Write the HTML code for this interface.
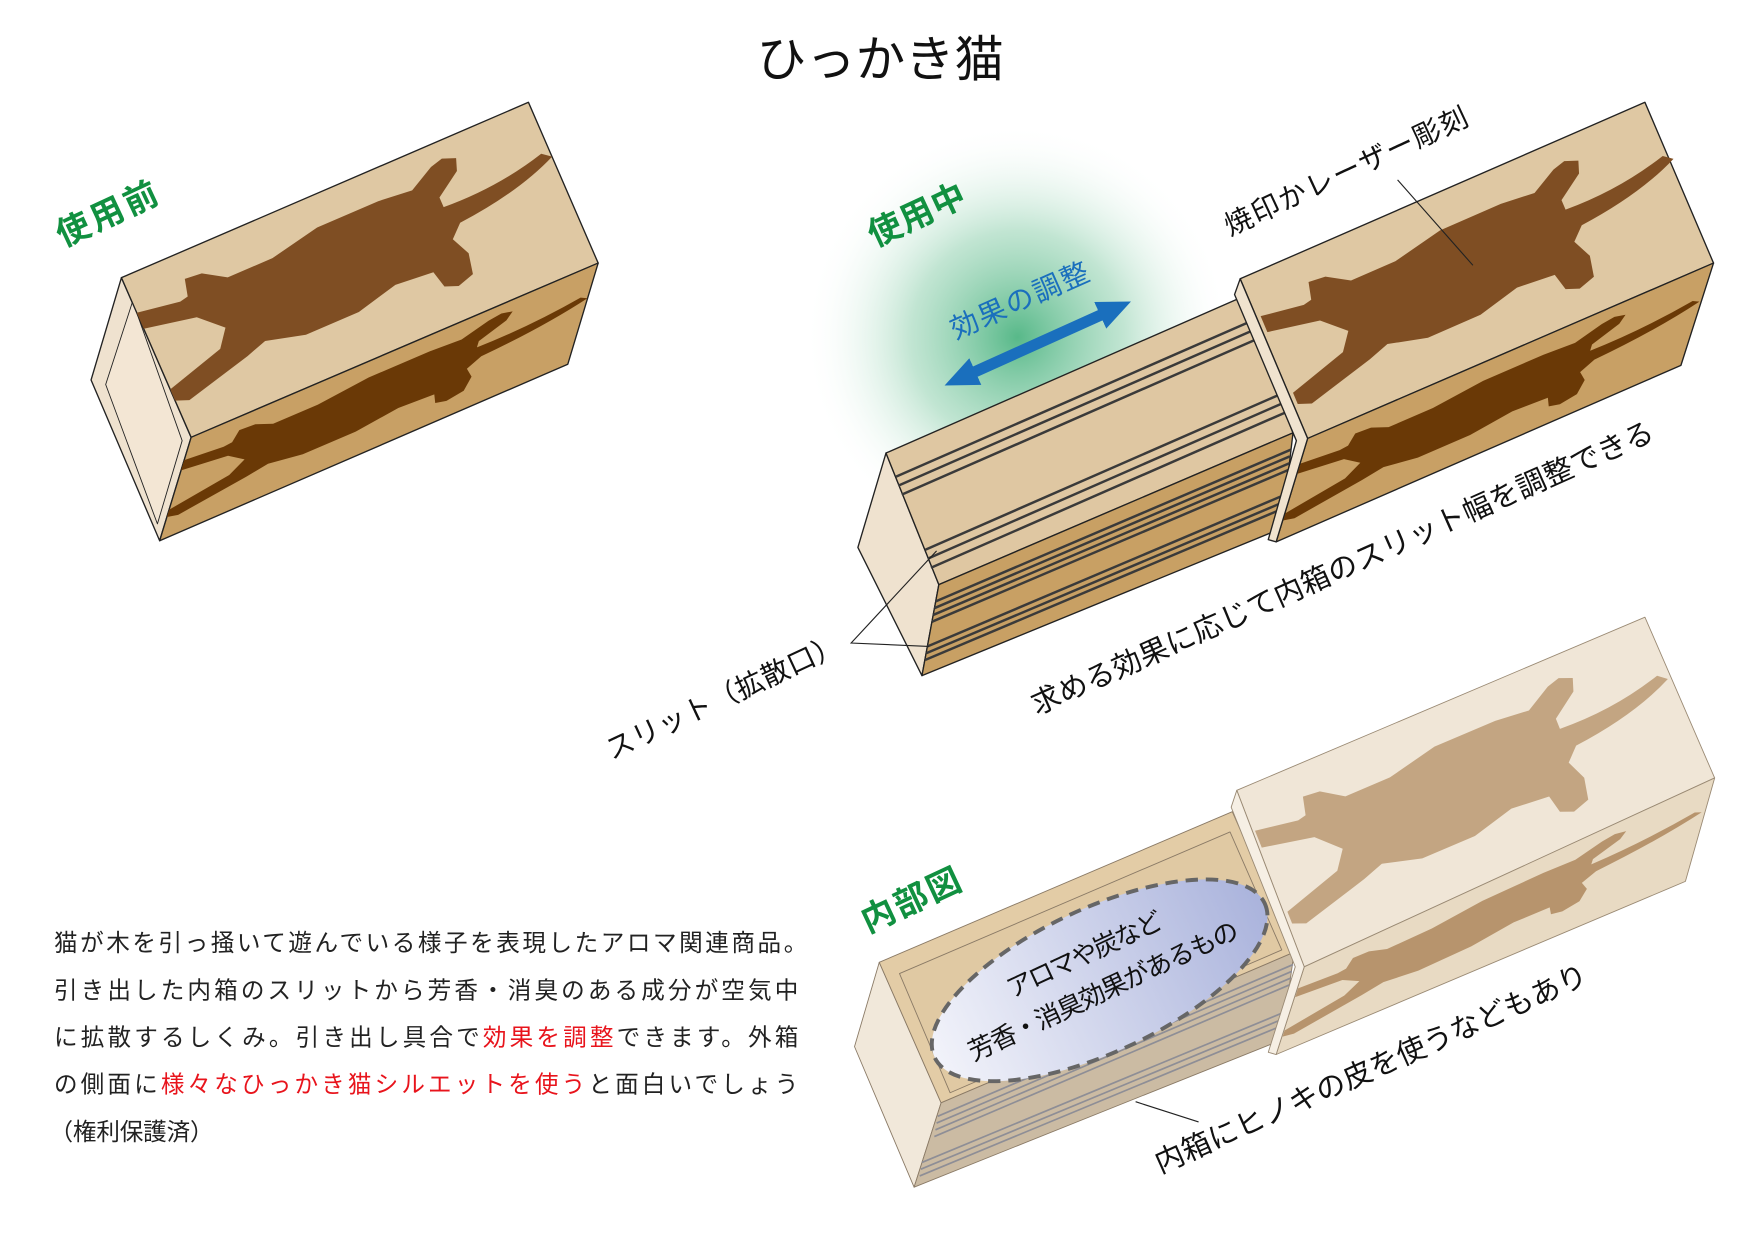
<!DOCTYPE html>
<html><head><meta charset="utf-8"><style>
html,body{margin:0;padding:0;background:#fff;}
svg{display:block;}
text{font-family:"Liberation Sans","Noto Sans CJK JP",sans-serif;}
</style></head><body>
<svg width="1754" height="1240" viewBox="0 0 1560 1103" preserveAspectRatio="none" xmlns="http://www.w3.org/2000/svg">
<defs>
<radialGradient id="glow" cx="905" cy="300" r="190" gradientUnits="userSpaceOnUse">
<stop offset="0" stop-color="#4fb583" stop-opacity="0.95"/>
<stop offset="0.5" stop-color="#8fd0ae" stop-opacity="0.55"/>
<stop offset="1" stop-color="#ffffff" stop-opacity="0"/>
</radialGradient>
<linearGradient id="ell" x1="0" y1="0" x2="1" y2="0">
<stop offset="0" stop-color="#f2f3fa"/>
<stop offset="1" stop-color="#aab3dc"/>
</linearGradient>
<marker id="ah" markerWidth="30" markerHeight="30" refX="6" refY="15" orient="auto-start-reverse" markerUnits="userSpaceOnUse">
<path d="M0,2 L30,15 L0,28 Z" fill="#1a6fbd"/>
</marker>
<path id="cat" d="M0,22 L10,26 L12,25 L13,15 L17,16 L22,24 L33,24 L45,18 L60,18 L68,20 L74,12 L77,10 L80,13 L79,20 L73,30 L73,36 Q86,38 98,30 L100,34 Q90,45 75,48 L72,55 L74,66 L73,78 L69,81 L66,78 L65,68 L56,66 L46,72 L33,72 L24,66 L19,70 L3,80 L0,77 L0,70 L14,60 L17,50 L12,38 L0,32 Z"/>
</defs>

<text x="783" y="68" font-size="44" text-anchor="middle" fill="#111">ひっかき猫</text>

<!-- Box 1 -->
<g stroke="#222" stroke-width="1.2" stroke-linejoin="round">
<polygon points="108,247 170,389 142,481 81,338" fill="#efe2cf"/>
<polygon points="118,268 162,392 140,466 94,342" fill="#f3e6d4" stroke-width="0.8"/>
<polygon points="108,247 470,91 532,234 170,389" fill="#dfc8a3"/>
<polygon points="170,389 532,234 505,324 142,481" fill="#c8a065"/>
</g>
<g transform="matrix(3.62,-1.56,0.62,1.42,108,247)"><use href="#cat" fill="#7f4e23"/></g>
<g transform="matrix(3.62,-1.55,-0.28,0.92,170,389)"><use href="#cat" fill="#6a3906"/></g>
<text x="56" y="220" font-size="30" font-weight="bold" fill="#119040" transform="rotate(-25 56 220)" textLength="96">使用前</text>

<!-- Box 2 -->
<circle cx="905" cy="300" r="190" fill="url(#glow)"/>
<g stroke="#222" stroke-width="1.2" stroke-linejoin="round">
<polygon points="788,403 835,520 820,601 763,487" fill="#efe2cf"/>
<polygon points="788,403 1103,265 1150,385 835,520" fill="#dfc7a2"/>
<polygon points="835,520 1150,385 1140,470 820,601" fill="#c8a064"/>
</g>
<g stroke="#3a3a3a" stroke-width="2.2">
<line x1="797" y1="424" x2="1112" y2="286"/>
<line x1="799" y1="432" x2="1114" y2="294"/>
<line x1="802" y1="440" x2="1117" y2="302"/>
<line x1="823" y1="489" x2="1138" y2="351"/>
<line x1="825" y1="497" x2="1140" y2="359"/>
<line x1="828" y1="505" x2="1143" y2="367"/>
<line x1="832" y1="535" x2="1148" y2="400"/>
<line x1="831" y1="541" x2="1147" y2="406"/>
<line x1="830" y1="547" x2="1147" y2="412"/>
<line x1="829" y1="553" x2="1146" y2="418"/>
<line x1="825" y1="575" x2="1143" y2="440"/>
<line x1="824" y1="581" x2="1143" y2="446"/>
<line x1="823" y1="587" x2="1142" y2="452"/>
</g>
<g stroke="#222" stroke-width="1.2" stroke-linejoin="round">
<polygon points="1103,248 1463,91 1524,234 1163,390" fill="#dfc8a3"/>
<polygon points="1163,390 1524,234 1495,325 1135,482" fill="#c8a065"/>
<polygon points="1098,262 1103,248 1163,390 1135,482 1128,480 1153,392" fill="#f0e3cf"/>
</g>
<g transform="matrix(3.6,-1.57,0.6,1.42,1108,250)"><use href="#cat" fill="#7f4e23"/></g>
<g transform="matrix(3.58,-1.55,-0.28,0.92,1163,392)"><use href="#cat" fill="#6a3906"/></g>
<text x="778" y="220" font-size="30" font-weight="bold" fill="#119040" transform="rotate(-25 778 220)" textLength="92">使用中</text>
<line x1="862" y1="333" x2="984" y2="278" stroke="#1a6fbd" stroke-width="10" marker-start="url(#ah)" marker-end="url(#ah)"/>
<text x="850" y="302" font-size="25" fill="#1a6fbd" transform="rotate(-24 850 302)" textLength="132">効果の調整</text>
<text x="1094" y="210" font-size="25" fill="#111" transform="rotate(-25 1094 210)" textLength="236">焼印かレーザー彫刻</text>
<line x1="1243" y1="160" x2="1310" y2="236" stroke="#222" stroke-width="1"/>
<text x="922" y="636" font-size="26" fill="#111" transform="rotate(-24 922 636)" textLength="603">求める効果に応じて内箱のスリット幅を調整できる</text>
<text x="544" y="676" font-size="25" fill="#111" transform="rotate(-25 544 676)" textLength="228">スリット（拡散口）</text>
<polyline points="833,490 757,572 826,575" fill="none" stroke="#222" stroke-width="1"/>

<!-- Box 3 -->
<g stroke="#8a7a66" stroke-width="0.8" stroke-linejoin="round">
<polygon points="782,856 837,981 813,1056 760,931" fill="#f1e8da"/>
<polygon points="782,856 1096,722 1151,847 837,981" fill="#e3cca6"/>
<polygon points="800,866 1094,740 1140,845 845,972" fill="#e0c9a3"/>
<polygon points="837,981 1151,847 1140,925 813,1056" fill="#cbbba3"/>
</g>
<g stroke="#8e8e96" stroke-width="1.5">
<line x1="834" y1="993" x2="1150" y2="858"/>
<line x1="833" y1="999" x2="1149" y2="864"/>
<line x1="832" y1="1005" x2="1148" y2="870"/>
<line x1="831" y1="1011" x2="1147" y2="876"/>
<line x1="820" y1="1034" x2="1143" y2="900"/>
<line x1="819" y1="1040" x2="1142" y2="906"/>
<line x1="818" y1="1046" x2="1141" y2="912"/>
</g>
<g transform="rotate(-25 978 872)">
<ellipse cx="978" cy="872" rx="162" ry="64" fill="url(#ell)" stroke="#666" stroke-width="3.5" stroke-dasharray="11,7"/>
</g>
<text x="900" y="888" font-size="23" fill="#111" transform="rotate(-25 900 888)" textLength="150">アロマや炭など</text>
<text x="866" y="944" font-size="23" fill="#111" transform="rotate(-25 866 944)" textLength="262">芳香・消臭効果があるもの</text>
<g stroke="#9a8a74" stroke-width="0.8" stroke-linejoin="round">
<polygon points="1100,703 1463,549 1525,692 1160,860" fill="#f0e6d7"/>
<polygon points="1160,860 1525,692 1499,784 1135,938" fill="#e8dac3"/>
<polygon points="1095,718 1100,703 1160,860 1135,938 1128,936 1152,860" fill="#f6efe4"/>
</g>
<g transform="matrix(3.6,-1.53,0.6,1.5,1103,706)"><use href="#cat" fill="#c3a582"/></g>
<g transform="matrix(3.62,-1.66,-0.25,0.78,1160,862)"><use href="#cat" fill="#b7946d"/></g>
<text x="772" y="830" font-size="30" font-weight="bold" fill="#119040" transform="rotate(-25 772 830)" textLength="94">内部図</text>
<line x1="1010" y1="980" x2="1066" y2="998" stroke="#222" stroke-width="1"/>
<text x="1032" y="1044" font-size="26" fill="#111" transform="rotate(-24 1032 1044)" textLength="418">内箱にヒノキの皮を使うなどもあり</text>

<g font-size="21" fill="#222">
<text x="48" y="846" textLength="670">猫が木を引っ掻いて遊んでいる様子を表現したアロマ関連商品。</text>
<text x="48" y="888" textLength="662">引き出した内箱のスリットから芳香・消臭のある成分が空気中</text>
<text x="48" y="930" textLength="662">に拡散するしくみ。引き出し具合で<tspan fill="#e8141c">効果を調整</tspan>できます。外箱</text>
<text x="48" y="972" textLength="662">の側面に<tspan fill="#e8141c">様々なひっかき猫シルエットを使う</tspan>と面白いでしょう</text>
<text x="44" y="1014" textLength="146">（権利保護済）</text>
</g>
</svg>
</body></html>
